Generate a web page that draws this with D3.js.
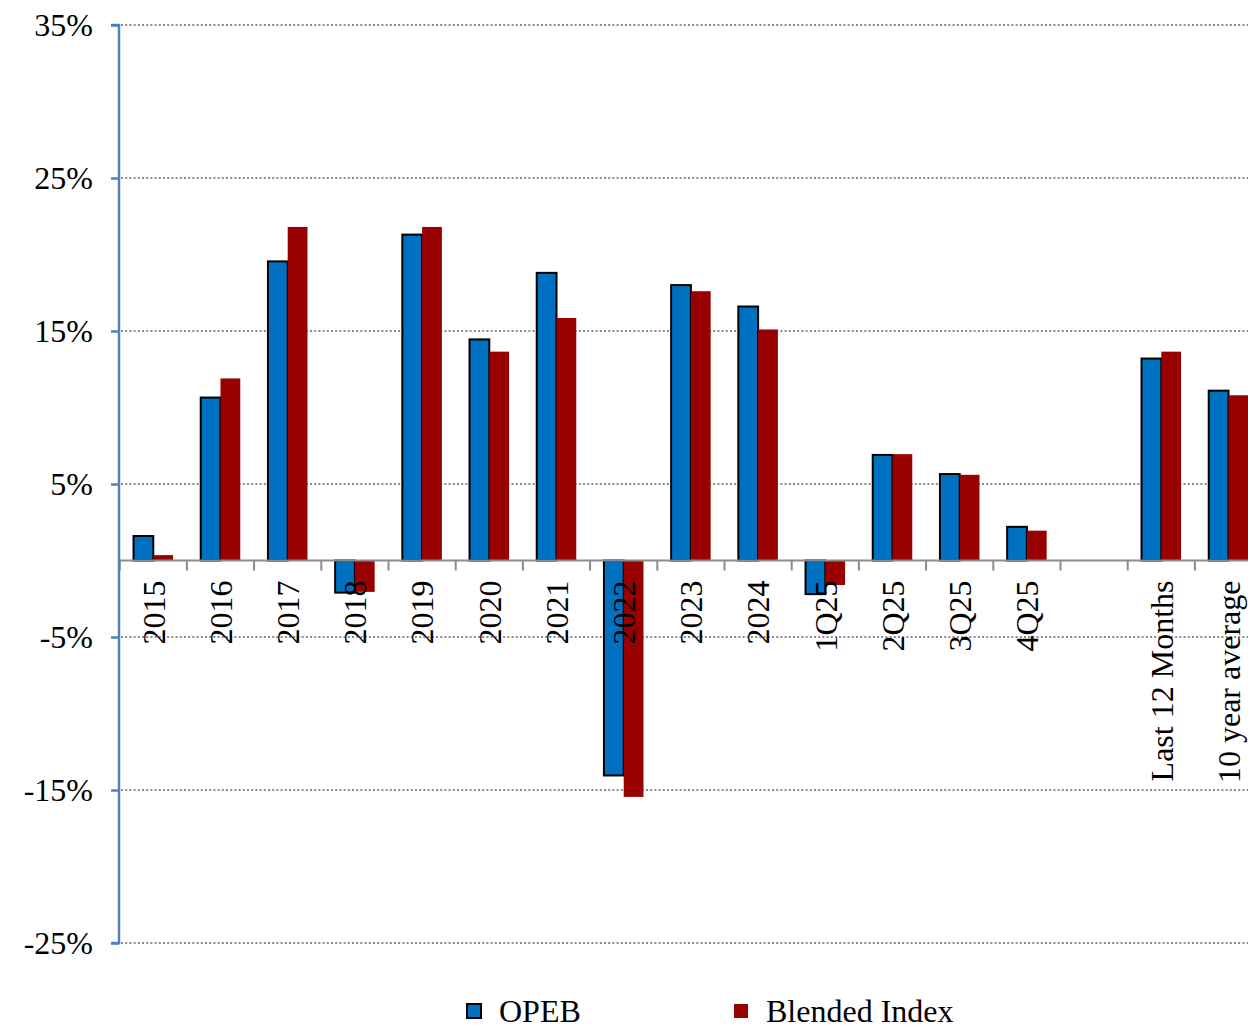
<!DOCTYPE html>
<html>
<head>
<meta charset="utf-8">
<script src="https://cdn.jsdelivr.net/npm/d3@7"></script>
<style>
  html, body { margin: 0; padding: 0; background: #fff; overflow: hidden; }
  svg { display: block; }
  svg text { font-family: "Liberation Serif", "Times New Roman", serif; }
</style>
</head>
<body>
<div id="chart"></div>
<script>
// categories along the x axis ("" is the empty gap before the summary bars)
const categories = ['2015', '2016', '2017', '2018', '2019', '2020', '2021', '2022', '2023', '2024',
    '1Q25', '2Q25', '3Q25', '4Q25', '', 'Last 12 Months', '10 year average'];
const seriesNames = ['OPEB', 'Blended Index'];
const opeb = [1.6, 10.65, 19.55, -2.1, 21.3, 14.45, 18.8, -14.05, 18.0, 16.6,
    -2.2, 6.9, 5.65, 2.2, null, 13.2, 11.1];
const blended = [0.35, 11.9, 21.8, -2.05, 21.8, 13.65, 15.85, -15.45, 17.6, 15.1,
    -1.6, 6.95, 5.6, 1.95, null, 13.65, 10.8];
const yTicks = [35, 25, 15, 5, -5, -15, -25];

const W = 1248, H = 1029;
const colors = { 'OPEB': '#0070c0', 'Blended Index': '#990000' };
const FS = 32;

const svg = d3.select('#chart').append('svg')
    .attr('width', W)
    .attr('height', H);

// plot runs past the right edge of the window, as in the original
const x = d3.scaleBand()
    .domain(categories)
    .range([119.7, 119.7 + categories.length * 67.2])
    .padding(0);

const xs = d3.scaleBand()
    .domain(seriesNames)
    .range([0, x.bandwidth()])
    .paddingInner(0)
    .paddingOuter(0.7);

const y = d3.scaleLinear()
    .domain([-25, 35])
    .range([943, 25]);

// dotted grid
svg.append('g')
    .selectAll('line')
    .data(yTicks)
    .join('line')
    .attr('x1', 121)
    .attr('x2', W)
    .attr('y1', d => y(d))
    .attr('y2', d => y(d))
    .attr('stroke', '#8a8a8a')
    .attr('stroke-width', 1.8)
    .attr('stroke-dasharray', '2,2.2');

// bars
const rows = categories.map((c, i) => ({ cat: c, vals: [opeb[i], blended[i]] }));
const groups = svg.append('g')
    .selectAll('g')
    .data(rows)
    .join('g')
    .attr('transform', d => `translate(${x(d.cat)},0)`);

groups.selectAll('rect')
    .data(d => d.vals.map((v, k) => ({ name: seriesNames[k], v })).filter(e => e.v != null))
    .join('rect')
    .attr('x', d => xs(d.name))
    .attr('width', xs.bandwidth())
    .attr('y', d => y(Math.max(0, d.v)))
    .attr('height', d => Math.abs(y(d.v) - y(0)))
    .attr('fill', d => colors[d.name])
    .attr('stroke', d => d.name === 'OPEB' ? '#000' : 'none')
    .attr('stroke-width', 2);

// x axis: gray line with ticks on category boundaries
const xAxis = svg.append('g');
xAxis.append('line')
    .attr('x1', 119.7)
    .attr('x2', W)
    .attr('y1', y(0))
    .attr('y2', y(0))
    .attr('stroke', '#8c8c8c')
    .attr('stroke-width', 2);
xAxis.selectAll('line.tick')
    .data(categories.map(c => x(c)).concat([x.range()[1]]))
    .join('line')
    .attr('class', 'tick')
    .attr('x1', d => d)
    .attr('x2', d => d)
    .attr('y1', y(0))
    .attr('y2', y(0) + 10)
    .attr('stroke', '#8c8c8c')
    .attr('stroke-width', 2);

xAxis.selectAll('text')
    .data(categories)
    .join('text')
    .attr('transform', d => `translate(${x(d) + x.bandwidth() / 2},${y(0) + 20}) rotate(-90)`)
    .attr('text-anchor', 'end')
    .attr('dy', '0.35em')
    .attr('font-size', FS)
    .attr('fill', '#000')
    .text(d => d);

// y axis
const yAxis = svg.append('g')
    .attr('transform', 'translate(119,0)')
    .call(d3.axisLeft(y).tickValues(yTicks).tickSize(8).tickFormat(d => d + '%'))
    .attr('font-family', null)
    .attr('font-size', FS);
yAxis.select('.domain')
    .attr('stroke', '#4f81bd')
    .attr('stroke-width', 2.5)
    .attr('d', `M-8,${y(35)}H0V${y(-25)}H-8`);
yAxis.selectAll('.tick line')
    .attr('stroke', '#4f81bd')
    .attr('stroke-width', 2.5);
yAxis.selectAll('.tick text')
    .attr('x', -26)
    .attr('fill', '#000');

// legend (kept just inside the bottom edge)
const legend = svg.append('g')
    .selectAll('g')
    .data(seriesNames)
    .join('g')
    .attr('transform', (d, i) => `translate(${i === 0 ? 467 : 734},1004)`);
legend.append('rect')
    .attr('width', 14)
    .attr('height', 14)
    .attr('fill', d => colors[d])
    .attr('stroke', d => d === 'OPEB' ? '#000' : 'none')
    .attr('stroke-width', 2);
legend.append('text')
    .attr('x', 32)
    .attr('y', 7)
    .attr('dy', '0.35em')
    .attr('font-size', FS)
    .attr('fill', '#000')
    .text(d => d);
</script>
</body>
</html>
